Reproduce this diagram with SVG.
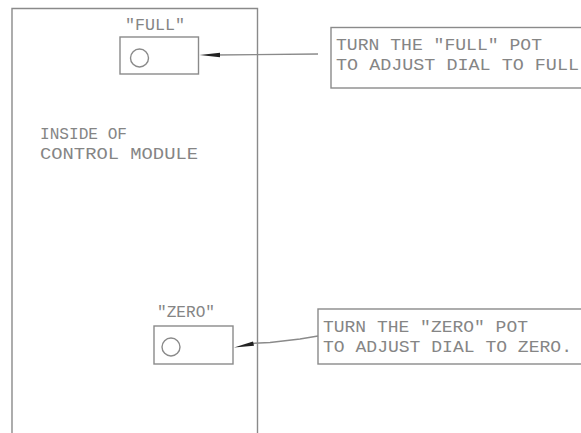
<svg xmlns="http://www.w3.org/2000/svg" width="581" height="433" viewBox="0 0 581 433">
<style>
.ln{fill:none;stroke:#8a8a8a;stroke-width:1.4}
.t{font-family:"Liberation Mono","DejaVu Sans Mono",monospace;font-size:17px;fill:#858585}
.ah{fill:#222;stroke:none}
</style>
<rect width="581" height="433" fill="#fff"/>
<g id="module">
<path class="ln" d="M12,440 V8.5 H257.5 V440"/>
<text class="t" x="40" y="139" textLength="87" lengthAdjust="spacingAndGlyphs">INSIDE OF</text>
<text class="t" x="40" y="158.5" textLength="158" lengthAdjust="spacingAndGlyphs">CONTROL MODULE</text>
</g>
<g id="full-pot">
<text class="t" x="125" y="30" textLength="60" lengthAdjust="spacingAndGlyphs">"FULL"</text>
<rect class="ln" x="120" y="37" width="78.5" height="37"/>
<circle class="ln" cx="139.5" cy="58" r="9"/>
</g>
<g id="zero-pot">
<text class="t" x="157" y="317" textLength="58" lengthAdjust="spacingAndGlyphs">"ZERO"</text>
<rect class="ln" x="154" y="326" width="79" height="38"/>
<circle class="ln" cx="171" cy="347" r="9"/>
</g>
<g id="full-note">
<rect class="ln" x="331" y="27.5" width="260" height="60.5"/>
<text class="t" x="336" y="50" textLength="206" lengthAdjust="spacingAndGlyphs">TURN THE "FULL" POT</text>
<text class="t" x="336" y="70" textLength="243" lengthAdjust="spacingAndGlyphs">TO ADJUST DIAL TO FULL</text>
</g>
<g id="zero-note">
<rect class="ln" x="318" y="309" width="270" height="55"/>
<text class="t" x="323" y="332" textLength="205" lengthAdjust="spacingAndGlyphs">TURN THE "ZERO" POT</text>
<text class="t" x="323" y="352" textLength="249" lengthAdjust="spacingAndGlyphs">TO ADJUST DIAL TO ZERO.</text>
</g>
<g id="connectors">
<path class="ln" d="M215,55 L318,54"/>
<path class="ah" d="M199.5,55 L220,52.8 L220,57.2 Z"/>
<path class="ln" d="M250,343.5 L270,342.5 L300,339 L318,336"/>
<path class="ah" d="M234,347.5 L253,341.5 L254,345.8 Z"/>
</g>
</svg>
